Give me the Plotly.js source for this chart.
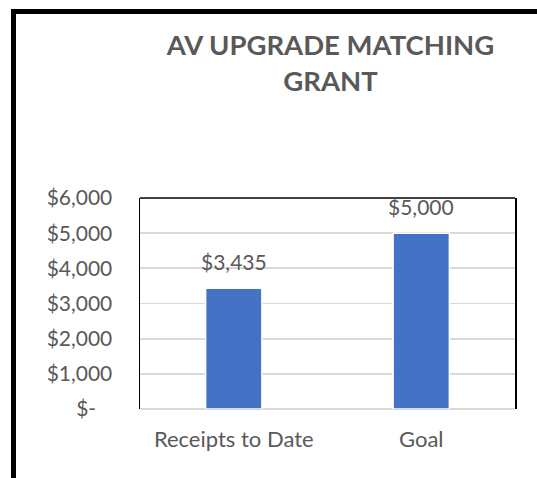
<!DOCTYPE html>
<html>
<head>
<meta charset="utf-8">
<script src="https://cdn.plot.ly/plotly-3.0.1.min.js"></script>
<style>
  html, body { margin:0; padding:0; background:#fff; overflow:hidden; }
  #wrap { position:relative; width:537px; height:478px; }
  #chart { position:absolute; left:0; top:0; width:537px; height:478px; }
  #frame { position:absolute; left:11px; top:9px; width:540px; height:480px;
           border-left:5px solid #000; border-top:5px solid #000; pointer-events:none; }
</style>
</head>
<body>
<div id="wrap">
  <div id="chart"></div>
  <div id="frame"></div>
</div>
<script>
const categories = ["Receipts to Date", "Goal"];
const amounts = [3435, 5000];
const amountLabels = ["$3,435", "$5,000"];
const yTickValues = [0, 1000, 2000, 3000, 4000, 5000, 6000];
const yTickLabels = ["$-\u00a0\u00a0\u00a0", "$1,000", "$2,000", "$3,000", "$4,000", "$5,000", "$6,000"];
const chartTitle = "AV UPGRADE MATCHING<br>GRANT";

const gray = "#595959";
const fontFam = "Lato, 'Open Sans', sans-serif";

const trace = {
  type: "bar",
  x: categories,
  y: amounts,
  marker: { color: "#4472C4", line: { color: "#ffffff", width: 1.5 } },
  hoverinfo: "none"
};

const annotations = categories.map((c, i) => ({
  x: c, y: amounts[i], xref: "x", yref: "y",
  text: amountLabels[i], showarrow: false,
  yanchor: "middle", yshift: 27,
  font: { family: fontFam, size: 21, color: gray }
}));

const layout = {
  width: 537, height: 478,
  margin: { l: 140, r: 22, t: 198, b: 69 },
  paper_bgcolor: "#fff", plot_bgcolor: "#fff",
  showlegend: false,
  bargap: 0.7,
  title: {
    text: chartTitle,
    x: 0.508, xref: "paper", xanchor: "center",
    y: 1 - 55/478, yref: "container", yanchor: "top",
    font: { family: fontFam, size: 27.5, color: gray, weight: "bold" }
  },
  xaxis: {
    type: "category",
    showgrid: false, showline: false, zeroline: false,
    ticks: "", ticklabelstandoff: 15,
    tickfont: { family: fontFam, size: 22, color: gray }
  },
  yaxis: {
    range: [0, 6000],
    tickvals: yTickValues, ticktext: yTickLabels,
    showgrid: true, gridcolor: "#d9d9d9", gridwidth: 1.8,
    zeroline: true, zerolinecolor: "#d9d9d9", zerolinewidth: 1.8,
    showline: true, linecolor: "#000", linewidth: 1.5, mirror: true,
    ticks: "", ticklabelstandoff: 22,
    tickfont: { family: fontFam, size: 21, color: gray }
  },
  shapes: [{
    type: "line", xref: "paper", yref: "paper",
    x0: 0, x1: 1, y0: 1, y1: 1,
    line: { color: "#000", width: 1.5 }
  }],
  annotations: annotations
};

Plotly.newPlot("chart", [trace], layout, { displayModeBar: false, staticPlot: true });
</script>
</body>
</html>
